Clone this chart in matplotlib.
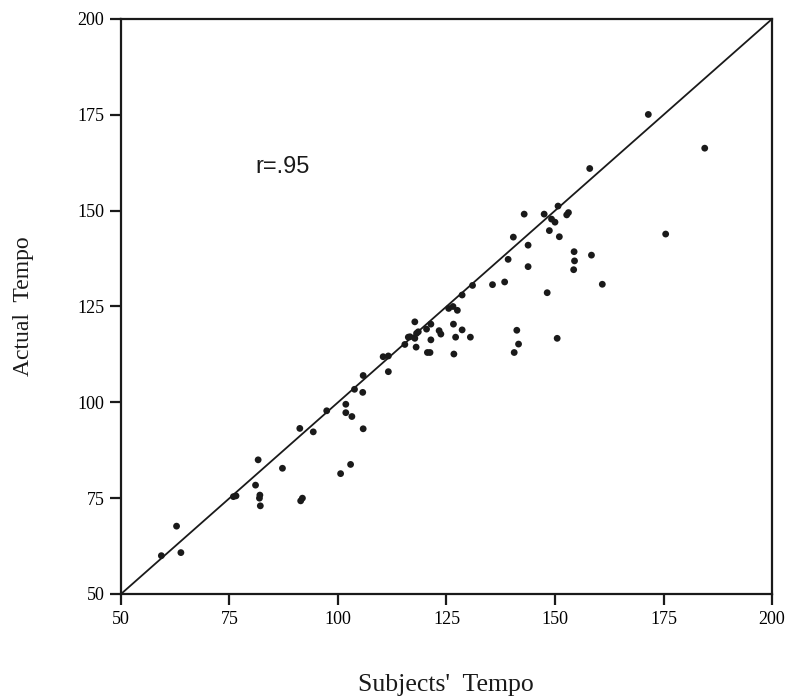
import matplotlib

matplotlib.use("Agg")
import matplotlib.pyplot as plt  # noqa: E402
import numpy as np  # noqa: E402

# Subjects' tempo (x) vs actual tempo (y)
subjects_tempo = np.array([
    59.3, 62.8, 63.8, 75.9, 76.5, 81.0, 81.6, 82.0, 81.9, 82.1,
    87.2, 91.2, 94.3, 91.4, 91.8, 97.4, 100.6, 101.8, 101.8, 102.9,
    103.2, 103.8, 105.7, 105.8, 105.8, 110.4, 111.6, 111.6, 115.4, 116.2,
    116.6, 117.7, 117.7, 118.0, 118.5, 118.1, 120.4, 121.4, 121.4, 120.6,
    121.2, 123.3, 123.7, 125.5, 126.5, 127.5, 126.6, 127.1, 126.7, 128.6,
    128.6, 130.5, 131.0, 135.6, 138.4, 139.2, 140.4, 140.6, 141.2, 141.6,
    142.9, 143.8, 143.8, 147.5, 148.2, 148.7, 149.2, 150.0, 150.5, 150.7,
    151.0, 152.7, 153.1, 154.4, 154.5, 154.3, 158.0, 158.4, 160.9, 171.5,
    175.5, 184.5,
])
actual_tempo = np.array([
    60.0, 67.7, 60.8, 75.4, 75.6, 78.4, 85.0, 75.8, 75.0, 73.0,
    82.8, 93.2, 92.3, 74.3, 75.0, 97.8, 81.4, 99.5, 97.3, 83.8,
    96.3, 103.4, 102.6, 93.1, 107.0, 111.9, 112.1, 108.0, 115.1, 117.0,
    117.1, 121.0, 116.7, 114.4, 118.4, 118.0, 119.1, 120.4, 116.3, 113.0,
    113.0, 118.7, 117.8, 124.5, 125.0, 124.0, 120.4, 117.0, 112.6, 118.9,
    128.0, 117.0, 130.5, 130.7, 131.4, 137.3, 143.1, 113.0, 118.8, 115.2,
    149.1, 141.0, 135.4, 149.1, 128.6, 144.8, 147.8, 147.0, 116.7, 151.2,
    143.2, 148.9, 149.5, 139.3, 136.9, 134.6, 161.0, 138.4, 130.8, 175.1,
    143.9, 166.3,
])

ticks = [50, 75, 100, 125, 150, 175, 200]

SERIF = ["Liberation Serif", "DejaVu Serif"]

fig = plt.figure(figsize=(7.86, 6.98), dpi=100)
ax = fig.add_axes([121 / 786, 1 - 594 / 698, 651 / 786, 575 / 698])

ax.plot([50, 200], [50, 200], color="#1a1a1a", linewidth=1.3, zorder=2)
ax.scatter(subjects_tempo, actual_tempo, s=24, color="#1a1a1a",
           edgecolors="none", zorder=3)

ax.set_xlim(50, 200)
ax.set_ylim(50, 200)
ax.set_xticks(ticks)
ax.set_yticks(ticks)
ax.set_xticklabels([str(t) for t in ticks], family=SERIF, fontsize=13)
ax.set_yticklabels([str(t) for t in ticks], family=SERIF, fontsize=13)
ax.tick_params(direction="out", length=8, width=1.6, pad=4,
               top=False, right=False, color="#1a1a1a")
for sp in ax.spines.values():
    sp.set_linewidth(1.6)
    sp.set_color("#1a1a1a")

ax.text(87.3, 161.4, "r=.95", family=["Liberation Sans", "DejaVu Sans"],
        fontsize=17, ha="center", va="center", color="#1a1a1a")

fig.text(446 / 786, 1 - 685 / 698, "Subjects'  Tempo", family=SERIF,
         fontsize=18.5, ha="center", va="center", color="#1a1a1a")
fig.text(24 / 786, 1 - 306 / 698, "Actual  Tempo", family=SERIF,
         fontsize=17, ha="center", va="center", rotation=90, color="#1a1a1a")

fig.savefig("out.png", dpi=100)
